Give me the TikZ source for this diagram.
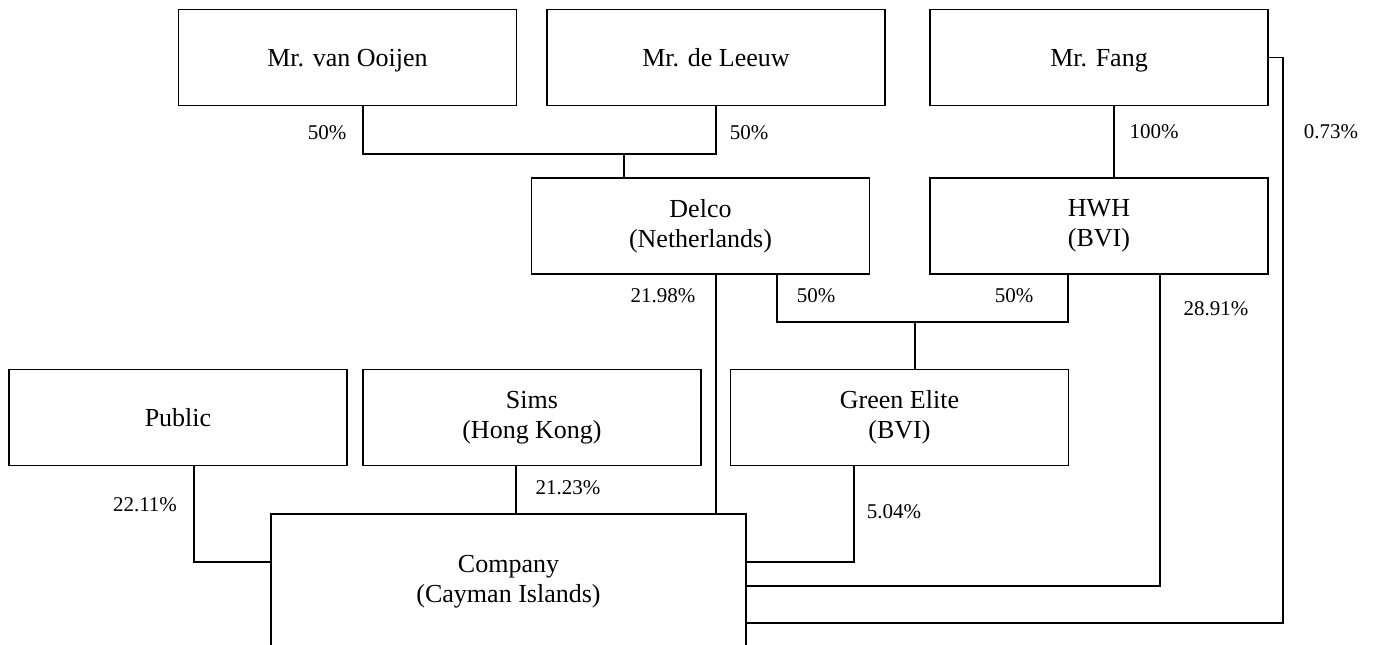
\documentclass[tikz,border=0pt]{standalone}
\usepackage{fontspec}
\setmainfont{Liberation Serif}

\tikzset{
  box/.style={draw, line width=0.55pt, minimum width=169pt, minimum height=48pt,
    align=center, inner sep=0pt, font=\fontsize{13}{15}\selectfont},
  oneline/.style={box, text height=11pt, text depth=2.4pt},
  pct/.style={font=\fontsize{10.5}{12}\selectfont, inner sep=0pt},
  link/.style={line width=0.55pt}
}

\begin{document}
\begin{tikzpicture}[x=0.5pt,y=-0.5pt]
\useasboundingbox (0,0) rectangle (1375,644);

\node[oneline] (ooijen) at (347.5,57.5) {Mr. van Ooijen};
\node[oneline] (leeuw) at (716,57.5) {Mr. de Leeuw};
\node[oneline] (fang) at (1099,57.5) {Mr. Fang};
\node[box] (delco) at (700.5,226) {Delco\\(Netherlands)};
\node[box] (hwh) at (1099,226) {HWH\\(BVI)};
\node[oneline] (public) at (178,417.5) {Public};
\node[box] (sims) at (532,417.5) {Sims\\(Hong Kong)};
\node[box] (green) at (899.5,417.5) {Green Elite\\(BVI)};
\node[box, minimum width=237.5pt, minimum height=68pt] (company) at (508.5,582) {Company\\(Cayman Islands)};

% pomozne tocke
\coordinate (o1) at (363,154);
\coordinate (o2) at (624,154);
\coordinate (f1) at (1114,154);
\coordinate (d1) at (777,322);
\coordinate (d2) at (915,322);
\coordinate (h1) at (1068,322);
\coordinate (c1) at (716,400);
\coordinate (s1) at (516,490);
\coordinate (p1) at (194,562);
\coordinate (g1) at (854,562);
\coordinate (h2) at (1160,586);
\coordinate (r1) at (1283,623);

\draw[link] (ooijen.south -| o1)--(o1)-|(leeuw.south);
\draw[link] (o2)--(delco.north -| o2);
\draw[link] (fang.south -| f1)--(hwh.north -| f1);
\draw[link] (delco.south -| d1)--(d1)--(h1)--(hwh.south -| h1);
\draw[link] (d2)--(green.north -| d2);
\draw[link] (delco.south -| c1)--(company.north -| c1);
\draw[link] (sims.south -| s1)--(company.north -| s1);
\draw[link] (public.south -| p1)--(p1)--(company.west |- p1);
\draw[link] (green.south -| g1)--(g1)--(company.east |- g1);
\draw[link] (hwh.south -| h2)--(h2)--(company.east |- h2);
\draw[link] (fang.east)-|(r1)--(company.east |- r1);

\foreach \i/\x/\y/\txt in {1/327/133/50\%, 2/749/133/50\%, 3/1154/132/100\%,
  4/1331/132/0.73\%, 5/663/296/21.98\%, 6/816/296/50\%, 7/1014/296/50\%,
  8/1216/309/28.91\%, 9/145/505/22.11\%, 10/568/488/21.23\%, 11/894/512/5.04\%}
\node[pct] (p\i) at (\x,\y) {\txt};
\end{tikzpicture}
\end{document}
